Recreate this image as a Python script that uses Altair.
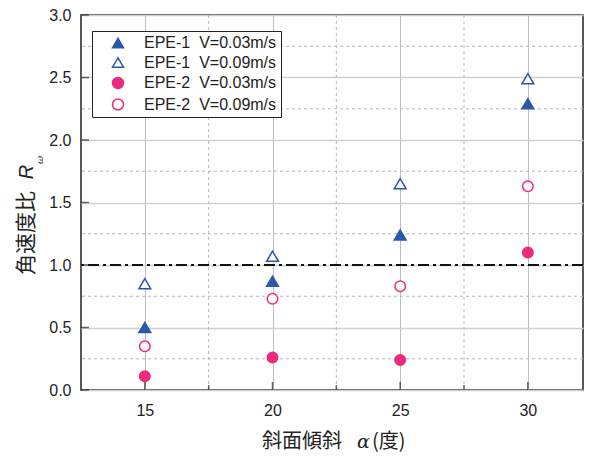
import altair as alt
import pandas as pd

# ---- data ----
alpha = [15, 20, 25, 30]
series_names = [
    "EPE-1\u00a0\u00a0V=0.03m/s",
    "EPE-1\u00a0\u00a0V=0.09m/s",
    "EPE-2\u00a0\u00a0V=0.03m/s",
    "EPE-2\u00a0\u00a0V=0.09m/s",
]
marker_kind = ["tri", "tri", "circ", "circ"]
epe1_v003 = [0.50, 0.87, 1.24, 2.29]
epe1_v009 = [0.85, 1.07, 1.65, 2.49]
epe2_v003 = [0.11, 0.26, 0.24, 1.10]
epe2_v009 = [0.35, 0.73, 0.83, 1.63]

x_major = [15, 20, 25, 30]
x_minor = [17.5, 22.5, 27.5]
y_major = [0.0, 0.5, 1.0, 1.5, 2.0, 2.5, 3.0]
y_minor = [0.25, 0.75, 1.25, 1.75, 2.25, 2.75]
ref_line = [1.0]

BLUE = "#2b58a8"
PINK = "#ec2b7c"

rows = []
for name, kind, vals in zip(series_names, marker_kind,
                            [epe1_v003, epe1_v009, epe2_v003, epe2_v009]):
    for a, v in zip(alpha, vals):
        rows.append({"x": a, "y": v, "series": name, "kind": kind})
df = pd.DataFrame(rows)

W, H = 502, 375
xscale = alt.Scale(domain=[12.5, 32.16], nice=False, zero=False)
yscale = alt.Scale(domain=[0, 3], nice=False, zero=False)
FONT = "Liberation Sans"
CJK = "Noto Sans CJK JP"

xaxis = alt.Axis(
    values=x_major, title=None, labelFont=FONT, labelFontSize=16,
    labelColor="#222", tickSize=0, labelPadding=12, domain=False,
    grid=True, gridColor="#bdbdbd", gridWidth=1)
yaxis = alt.Axis(
    values=y_major, format=".1f", title=None, labelFont=FONT,
    labelFontSize=16, labelColor="#222", tickSize=0, labelPadding=10,
    domain=False, grid=True, gridColor="#cfcfcf", gridWidth=1.5)

legend = alt.Legend(
    title=None, orient="none", legendX=11, legendY=16,
    fillColor="white", strokeColor="#222", padding=4,
    labelFont=FONT, labelFontSize=16, labelColor="#222",
    symbolSize=120, symbolStrokeWidth=1.5, symbolOffset=14,
    labelOffset=18, rowPadding=3.5,
)


def X(field="x"):
    return alt.X(f"{field}:Q", scale=xscale, axis=xaxis)


def Y(field="y"):
    return alt.Y(f"{field}:Q", scale=yscale, axis=yaxis)


points = alt.Chart(df).mark_point(opacity=1, strokeWidth=1.5, filled=False).encode(
    x=X(), y=Y(),
    shape=alt.Shape("series:N", scale=alt.Scale(
        domain=series_names,
        range=["triangle-up", "triangle-up", "circle", "circle"]), legend=legend),
    fill=alt.Fill("series:N", scale=alt.Scale(
        domain=series_names, range=[BLUE, "white", PINK, "white"]), legend=legend),
    stroke=alt.Stroke("series:N", scale=alt.Scale(
        domain=series_names, range=[BLUE, BLUE, PINK, PINK]), legend=legend),
    size=alt.Size("kind:N", scale=alt.Scale(
        domain=["tri", "circ"], range=[140, 110]), legend=None),
)

minor_x_grid = alt.Chart(pd.DataFrame({"x": x_minor})).mark_rule(
    color="#b8b8b8", strokeWidth=1, strokeDash=[3, 3]
).encode(x=X())

minor_y_grid = alt.Chart(pd.DataFrame({"y": y_minor})).mark_rule(
    color="#b8b8b8", strokeWidth=1, strokeDash=[3, 3]
).encode(y=Y())

refline = alt.Chart(pd.DataFrame({"y": ref_line})).mark_rule(
    color="#111", strokeWidth=2, strokeDash=[11, 4, 3, 4]
).encode(y=Y())

xt_major = alt.Chart(pd.DataFrame({"x": x_major})).mark_tick(
    orient="vertical", size=8, thickness=1.5, color="#222"
).encode(x=X(), y=alt.value(H - 4))
xt_minor = alt.Chart(pd.DataFrame({"x": x_minor})).mark_tick(
    orient="vertical", size=5, thickness=1.5, color="#222"
).encode(x=X(), y=alt.value(H - 2.5))
yt_major = alt.Chart(pd.DataFrame({"y": y_major})).mark_tick(
    orient="horizontal", size=8, thickness=1.5, color="#222"
).encode(y=Y(), x=alt.value(4))

# axis titles built from pieces (italic symbols)
ytitle_main = alt.Chart(pd.DataFrame({"t": ["角速度比"]})).mark_text(
    angle=270, align="center", baseline="alphabetic", font=CJK, fontSize=21,
    color="#222").encode(text="t:N", x=alt.value(-48), y=alt.value(218))
ytitle_R = alt.Chart(pd.DataFrame({"t": ["R"]})).mark_text(
    angle=270, align="center", baseline="alphabetic", font=FONT, fontSize=20,
    fontStyle="italic", color="#222").encode(text="t:N", x=alt.value(-48), y=alt.value(157))
ytitle_w = alt.Chart(pd.DataFrame({"t": ["ω"]})).mark_text(
    angle=270, align="center", baseline="alphabetic", font="DejaVu Serif", fontSize=10,
    fontStyle="italic", color="#222").encode(text="t:N", x=alt.value(-38), y=alt.value(145))

xtitle_main = alt.Chart(pd.DataFrame({"t": ["斜面傾斜"]})).mark_text(
    align="left", baseline="alphabetic", font=CJK, fontSize=20, color="#222"
).encode(text="t:N", x=alt.value(181), y=alt.value(433))
xtitle_a = alt.Chart(pd.DataFrame({"t": ["α"]})).mark_text(
    align="left", baseline="alphabetic", font="DejaVu Serif", fontSize=19,
    fontStyle="italic", color="#222").encode(text="t:N", x=alt.value(276), y=alt.value(433))
xtitle_p = alt.Chart(pd.DataFrame({"t": ["(度)"]})).mark_text(
    align="left", baseline="alphabetic", font=CJK, fontSize=20, color="#222"
).encode(text="t:N", x=alt.value(291), y=alt.value(433))

chart = alt.layer(
    minor_x_grid, minor_y_grid, refline, xt_major, xt_minor, yt_major,
    points, ytitle_main, ytitle_R, ytitle_w, xtitle_main, xtitle_a, xtitle_p,
).properties(
    width=W, height=H,
    padding={"left": 73, "top": 7, "right": 1, "bottom": 66},
    autosize=alt.AutoSizeParams(type="none"),
).configure_view(stroke="#222", strokeWidth=1.5)

chart.save("out.html", embed_options={"renderer": "svg", "actions": False})
